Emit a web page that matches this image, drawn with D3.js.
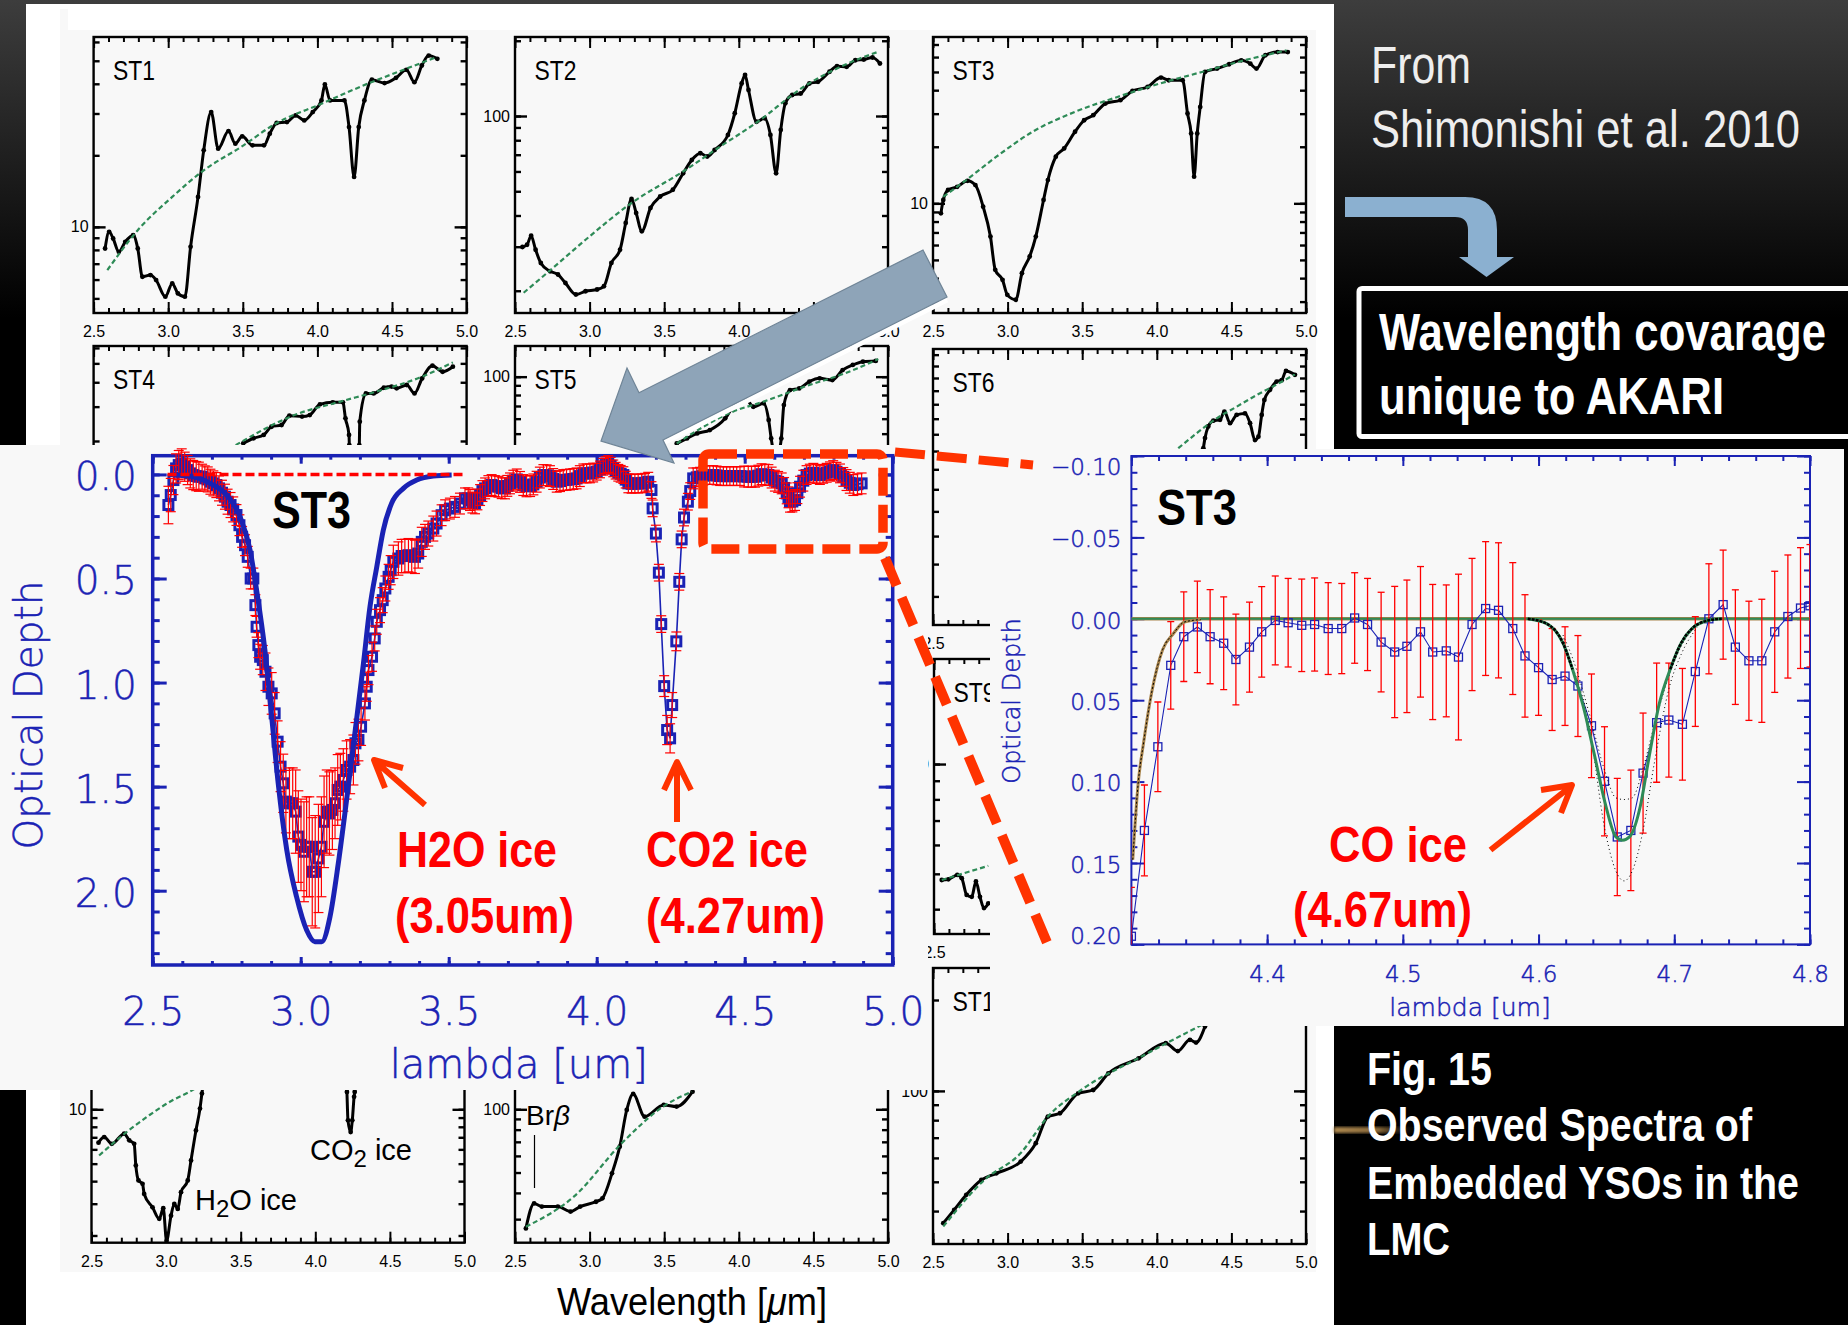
<!DOCTYPE html>
<html>
<head>
<meta charset="utf-8">
<script src="https://cdnjs.cloudflare.com/ajax/libs/d3/7.8.5/d3.min.js"></script>
<style>
  html, body { margin: 0; padding: 0; background: #000; }
  svg { display: block; }
  text { font-family: "Liberation Sans", sans-serif; }
  .thin text, text.thin { font-family: "DejaVu Sans", sans-serif; font-weight: 200; stroke: #1a22b4; stroke-width: .5; }
</style>
</head>
<body>
<svg id="chart" width="1848" height="1325"></svg>
<script>
// small spectra, lambda in um and log10 of the flux
var st1Lam = [2.577,2.604,2.631,2.669,2.712,2.765,2.796,2.827,2.881,2.919,2.981,3.027,3.065,3.112,3.15,3.2,3.238,3.288,3.335,3.404,3.45,3.496,3.565,3.642,3.681,3.727,3.796,3.854,3.912,3.969,4.027,4.05,4.085,4.181,4.212,4.246,4.277,4.315,4.365,4.45,4.527,4.596,4.65,4.7,4.746,4.804],
    st1Log = [.909,.979,.951,.895,.937,.965,.909,.79,.797,.776,.706,.762,.72,.706,.916,1.126,1.322,1.483,1.329,1.403,1.35,1.381,1.343,1.343,1.392,1.437,1.441,1.469,1.448,1.483,1.532,1.599,1.532,1.532,1.42,1.21,1.42,1.532,1.619,1.605,1.627,1.661,1.609,1.679,1.721,1.707],
    st1FitLam = [2.592,2.796,3.027,3.238,3.488,3.719,4.027,4.335,4.565,4.796],
    st1FitLog = [.818,.986,1.126,1.238,1.336,1.434,1.518,1.602,1.658,1.714];

var st2Lam = [2.55,2.581,2.608,2.638,2.673,2.735,2.788,2.838,2.908,2.973,3.05,3.096,3.146,3.204,3.242,3.281,3.312,3.35,3.408,3.473,3.558,3.627,3.685,3.742,3.788,3.838,3.927,3.973,4.019,4.042,4.065,4.119,4.173,4.212,4.25,4.281,4.312,4.358,4.415,4.473,4.531,4.608,4.658,4.723,4.781,4.838,4.896,4.946],
    st2Log = [1.476,1.485,1.521,1.465,1.412,1.379,1.366,1.332,1.286,1.299,1.306,1.319,1.412,1.465,1.572,1.668,1.612,1.539,1.632,1.678,1.705,1.771,1.824,1.851,1.838,1.864,1.924,2.011,2.13,2.164,2.104,1.977,1.991,1.924,1.771,1.944,2.051,2.084,2.09,2.13,2.137,2.177,2.199,2.197,2.223,2.226,2.234,2.21],
    st2FitLam = [2.558,2.742,2.973,3.281,3.627,3.858,4.127,4.435,4.704,4.935],
    st2FitLog = [1.293,1.386,1.505,1.652,1.778,1.871,1.977,2.117,2.203,2.257];

var st3Lam = [2.553,2.569,2.601,2.662,2.731,2.784,2.836,2.885,2.917,2.966,2.998,3.055,3.096,3.148,3.189,3.241,3.27,3.323,3.379,3.452,3.513,3.574,3.655,3.756,3.837,3.938,4.028,4.08,4.173,4.206,4.23,4.25,4.271,4.291,4.323,4.404,4.485,4.566,4.627,4.668,4.728,4.81,4.878],
    st3Log = [.947,1.018,1.071,1.088,1.12,1.097,.982,.823,.646,.593,.513,.487,.628,.717,.823,1.018,1.124,1.248,1.292,1.381,1.442,1.469,1.531,1.549,1.598,1.619,1.669,1.655,1.655,1.478,1.372,1.142,1.372,1.513,1.699,1.717,1.74,1.761,1.743,1.717,1.788,1.805,1.805],
    st3FitLam = [2.569,2.723,2.925,3.168,3.452,3.736,4.019,4.303,4.587,4.87],
    st3FitLog = [1.035,1.124,1.248,1.381,1.487,1.566,1.637,1.699,1.761,1.814];

var st4Lam = [3.503,3.572,3.64,3.692,3.76,3.812,3.897,3.949,4.017,4.103,4.171,4.188,4.212,4.214,4.23,4.25,4.271,4.281,4.284,4.325,4.377,4.445,4.497,4.531,4.599,4.651,4.702,4.771,4.839,4.908],
    st4Log = [1.289,1.315,1.332,1.374,1.383,1.431,1.426,1.434,1.489,1.499,1.499,1.417,1.332,1.28,1.11,.939,1.11,1.28,1.4,1.545,1.545,1.574,1.58,1.571,1.588,1.545,1.622,1.687,1.656,1.682],
    st4FitLam = [3.452,3.846,4.154,4.394,4.702,4.908],
    st4FitLog = [1.28,1.434,1.503,1.554,1.631,1.704];

var st5Lam = [3.584,3.653,3.721,3.806,3.909,3.977,4.046,4.097,4.166,4.2,4.217,4.234,4.251,4.268,4.285,4.302,4.343,4.405,4.473,4.542,4.627,4.696,4.764,4.832,4.918],
    st5Log = [1.647,1.674,1.7,1.718,1.78,1.859,1.885,1.841,1.859,1.771,1.674,1.586,1.462,1.586,1.674,1.85,1.929,1.938,1.974,1.991,1.982,2.035,2.062,2.079,2.083],
    st5FitLam = [3.584,3.96,4.166,4.439,4.713,4.935],
    st5FitLog = [1.647,1.815,1.868,1.947,2.018,2.093];

var st6Lam = [4.312,4.323,4.345,4.379,4.424,4.453,4.491,4.535,4.591,4.625,4.658,4.681,4.703,4.721,4.759,4.803,4.837,4.866,4.926],
    st6Log = [1.386,1.407,1.431,1.443,1.445,1.462,1.438,1.455,1.458,1.438,1.403,1.41,1.455,1.486,1.507,1.524,1.527,1.546,1.538],
    st6FitLam = [4.144,4.267,4.401,4.535,4.669,4.803,4.926],
    st6FitLog = [1.386,1.417,1.448,1.472,1.496,1.518,1.539];

var st7Lam = [2.547,2.585,2.636,2.719,2.753,2.786,2.797,2.815,2.842,2.853,2.909,2.954,2.981,3.003,3.033,3.055,3.078,3.1,3.145,3.167,3.2,3.227,3.24,3.3,4.2,4.212,4.219,4.237,4.248,4.26,4.264,4.3,4.9],
    st7Log = [.815,.846,.809,.865,.828,.809,.689,.606,.587,.531,.457,.393,.452,.272,.411,.476,.448,.541,.606,.717,.883,1.004,1.087,1.4,1.4,1.096,.939,.874,.939,1.069,1.096,1.4,1.5],
    st7FitLam = [2.551,2.708,2.887,3.043,3.155,3.5],
    st7FitLog = [.744,.856,.967,1.05,1.096,1.3];

var st8Lam = [2.573,2.628,2.68,2.787,2.872,2.937,3.043,3.086,3.15,3.202,3.249,3.292,3.369,3.497,3.583,3.69],
    st8Log = [1.433,1.552,1.537,1.537,1.513,1.537,1.56,1.576,1.695,1.822,1.997,2.073,1.965,2.021,2.013,2.084],
    st8FitLam = [2.573,2.894,3.215,3.493,3.686],
    st8FitLog = [1.441,1.584,1.838,2.013,2.084];

var st9Lam = [2.552,2.596,2.656,2.686,2.719,2.753,2.781,2.808,2.835,2.864],
    st9Log = [1.682,1.684,1.696,1.687,1.641,1.636,1.678,1.636,1.605,1.618],
    st9FitLam = [2.552,2.864],
    st9FitLog = [1.682,1.721];

var st12Lam = [2.569,2.642,2.723,2.824,2.925,3.088,3.189,3.27,3.351,3.473,3.574,3.675,3.878,4.06,4.141,4.222,4.263,4.323],
    st12Log = [1.562,1.606,1.656,1.705,1.727,1.766,1.827,1.915,1.926,1.992,2.003,2.058,2.108,2.158,2.132,2.169,2.16,2.213],
    st12FitLam = [2.569,2.844,3.088,3.27,3.493,3.898,4.303],
    st12FitLog = [1.551,1.705,1.794,1.915,2.003,2.114,2.219];

// ST3 optical depth, big panel
var mainLam = [
  2.553,2.561,2.57,2.579,2.588,2.598,2.608,2.618,2.627,2.637,
  2.647,2.656,2.667,2.676,2.686,2.695,2.705,2.715,2.724,2.734,
  2.744,2.753,2.763,2.772,2.783,2.793,2.802,2.812,2.821,2.831,
  2.84,2.847,2.851,2.857,2.863,2.872,2.881,2.891,2.902,2.912,
  2.922,2.932,2.941,2.95,2.962,2.973,2.983,2.992,3.001,3.011,
  3.02,3.029,3.039,3.049,3.06,3.07,3.079,3.088,3.097,3.107,
  3.116,3.125,3.134,3.144,3.155,3.167,3.178,3.185,3.195,3.204,
  3.217,3.223,3.229,3.241,3.25,3.257,3.268,3.277,3.286,3.297,
  3.304,3.313,3.33,3.341,3.352,3.364,3.375,3.386,3.397,3.409,
  3.42,3.431,3.448,3.459,3.476,3.488,3.504,3.521,3.538,3.555,3.566,
  3.572,3.58,3.589,3.597,3.606,3.614,3.623,3.634,3.645,3.656,
  3.668,3.679,3.69,3.698,3.707,3.718,3.73,3.741,3.752,3.763,
  3.775,3.786,3.797,3.808,3.82,3.831,3.842,3.853,3.865,3.876,
  3.887,3.898,3.91,3.921,3.932,3.943,3.955,3.966,3.977,3.988,
  4.0,4.011,4.022,4.03,4.039,4.047,4.056,4.064,4.073,4.081,
  4.09,4.098,4.107,4.118,4.129,4.14,4.152,4.163,4.174,
  4.185,4.189,4.2,4.21,4.218,4.228,4.238,4.248,4.255,4.269,4.279,4.287,4.295,4.308,4.316,
  4.326,4.338,4.349,4.36,4.371,4.382,4.394,4.405,4.417,4.428,
  4.439,4.45,4.462,4.473,4.484,4.498,4.512,4.523,4.535,4.546,
  4.557,4.568,4.58,4.591,4.602,4.613,4.625,4.633,4.642,4.648,
  4.653,4.661,4.67,4.678,4.687,4.698,4.709,4.72,4.732,4.743,
  4.754,4.765,4.777,4.788,4.799,4.81,4.822,4.833,4.844,4.855,
  4.867,4.881,4.895];
var mainTau = [
  .147,.099,.027,-.029,-.045,-.053,-.037,-.021,-.005,.003,
  .008,.011,.011,.019,.024,.035,.043,.051,.067,.088,
  .107,.131,.147,.168,.195,.244,.3,.34,.396,.5,
  .5,.628,.732,.82,.876,.892,.948,1.02,1.052,1.148,
  1.284,1.404,1.484,1.572,1.58,1.58,1.62,1.74,1.78,1.813,
  1.789,1.789,1.909,1.909,1.845,1.789,1.669,1.62,1.629,1.612,
  1.58,1.516,1.5,1.468,1.42,1.404,1.372,1.292,1.276,1.212,
  1.1,1.02,.94,.876,.788,.708,.652,.604,.548,.492,
  .46,.42,.404,.392,.392,.388,.392,.396,.38,.324,
  .3,.284,.26,.236,.196,.172,.164,.156,.14,.115,.115,
  .123,.135,.139,.12,.099,.08,.067,.056,.051,.056,
  .059,.066,.067,.055,.043,.03,.024,.036,.051,.057,
  .056,.048,.035,.015,.003,.004,.008,.022,.035,.032,
  .027,.026,.024,.022,.019,.008,-.005,-.005,-.005,-.009,
  -.013,-.024,-.037,-.045,-.05,-.042,-.029,-.018,-.008,-.003,
  .003,.025,.043,.045,.043,.044,.043,.04,.035,
  .075,.163,.284,.472,.719,1.017,1.228,1.268,1.108,.802,.516,.312,.207,.131,.08,
  .019,.014,.011,.006,.003,.003,.003,.005,.008,.008,
  .008,.008,.008,.008,.008,.01,.011,.011,.011,.006,
  -.001,.001,.003,.015,.03,.036,.043,.065,.091,.11,
  .131,.13,.123,.09,.059,.03,.003,-.004,-.008,-.002,
  .003,-.003,-.008,-.015,-.021,-.013,-.005,.012,.027,.04,
  .051,.047,.043];
var mainErr = [
  .09,.08,.07,.07,.07,.07,.07,.07,.07,.07,
  .07,.07,.06,.06,.06,.06,.06,.06,.06,.06,
  .06,.06,.06,.06,.05,.05,.05,.05,.05,.05,
  .05,.05,.05,.06,.06,.07,.09,.09,.1,.1,
  .1,.12,.14,.15,.17,.17,.2,.22,.22,.24,
  .24,.24,.26,.27,.26,.24,.22,.2,.2,.19,
  .17,.17,.16,.15,.14,.13,.12,.1,.1,.09,
  .08,.07,.07,.07,.06,.06,.06,.06,.06,.06,
  .07,.08,.08,.08,.08,.08,.08,.08,.07,.07,
  .06,.06,.06,.06,.05,.05,.05,.05,.05,.05,.05,
  .05,.05,.05,.05,.05,.05,.05,.05,.05,.05,
  .05,.05,.05,.05,.05,.05,.05,.05,.05,.05,
  .05,.05,.05,.05,.05,.05,.05,.05,.05,.05,
  .05,.05,.05,.05,.05,.05,.045,.045,.045,.045,
  .04,.04,.04,.04,.04,.04,.04,.04,.04,.04,
  .04,.04,.045,.045,.045,.045,.045,.045,.045,
  .04,.04,.04,.04,.04,.05,.07,.07,.06,.045,.04,.04,.04,.04,.04,
  .05,.045,.045,.045,.045,.045,.045,.045,.045,.045,
  .045,.045,.045,.045,.045,.05,.05,.05,.05,.05,
  .05,.05,.05,.05,.05,.05,.05,.05,.05,.05,
  .05,.05,.05,.05,.05,.05,.045,.045,.045,.045,
  .045,.045,.045,.045,.045,.045,.045,.045,.05,.05,
  .05,.05,.05];

var h2oFitLam = [2.57,2.637,2.694,2.75,2.795,2.829,2.851,2.879,2.902,2.924,2.953,2.986,3.02,3.048,3.071,3.099,3.127,3.155,3.183,3.212,3.234,3.257,3.279,3.307,3.347,3.392,3.448,3.51],
    h2oFitTau = [.003,.011,.043,.099,.203,.364,.556,.844,1.164,1.484,1.805,2.029,2.189,2.245,2.245,2.125,1.869,1.564,1.244,.908,.636,.444,.268,.139,.067,.027,.008,.003],
    zeroLam = [2.55,3.55],
    zeroTau = [0,0];

// ST3 zoom around the CO band
var coLam = [4.3,4.3096,4.3195,4.329,4.3386,4.3486,4.358,4.368,4.377,4.387,4.396,4.406,4.4155,4.4255,4.435,4.445,4.455,4.4645,4.474,4.484,4.494,4.503,4.513,4.522,4.532,4.541,4.551,4.561,4.5705,4.581,4.59,4.6,4.61,4.6195,4.629,4.639,4.6486,4.658,4.668,4.677,4.687,4.696,4.706,4.7155,4.7255,4.736,4.745,4.755,4.7645,4.774,4.7837,4.793,4.8],
    coTau = [.195,.13,.0786,.0286,.011,.005,.011,.015,.025,.0174,.008,.001,.0024,.004,.0035,.006,.006,-.0005,.0035,.0143,.0204,.0169,.008,.0204,.0197,.0235,.0035,-.0063,-.0052,.006,.0228,.03,.0373,.0352,.0413,.0657,.0998,.134,.13,.0948,.0638,.0622,.0648,.0324,0,-.0087,.0174,.0258,.0258,.008,-.0014,-.0066,-.008],
    coErr = [.03,.0279,.0275,.0269,.0275,.0281,.0289,.0285,.0279,.0277,.0278,.0273,.0272,.0284,.0286,.0282,.0277,.0278,.0283,.0306,.0403,.0407,.0401,.0415,.0405,.0509,.0406,.0411,.0415,.0405,.0376,.0293,.0313,.0303,.031,.0318,.0335,.036,.037,.0369,.0366,.035,.0343,.0337,.0338,.0335,.0352,.0366,.0378,.0372,.0378,.0371,.0376];

var wingLam = [4.301,4.305,4.309,4.315,4.323,4.331,4.339,4.351],
    wingTau = [.148,.101,.076,.045,.019,.009,.002,.0005],
    coFitLam = [4.592,4.606,4.618,4.625,4.633,4.641,4.649,4.657,4.662,4.667,4.675,4.681,4.689,4.697,4.705,4.713,4.725,4.735],
    coFitTau = [0,.003,.015,.031,.054,.083,.113,.134,.136,.134,.115,.087,.052,.031,.015,.006,.001,0],
    coLowLam = [4.618,4.625,4.637,4.649,4.657,4.663,4.669,4.677,4.685,4.697,4.705,4.717],
    coLowTau = [.012,.029,.064,.13,.155,.161,.155,.13,.09,.04,.022,.005],
    coHighTau = [.01,.024,.057,.094,.11,.111,.11,.092,.066,.033,.017,.004];

var svg = d3.select("#chart");
var defs = svg.append("defs");

var bgGrad = defs.append("linearGradient").attr("id", "bg").attr("x1", 0).attr("x2", 0).attr("y1", 0).attr("y2", 1);
bgGrad.append("stop").attr("offset", 0).attr("stop-color", "#3d3d3d");
bgGrad.append("stop").attr("offset", .24).attr("stop-color", "#000");
bgGrad.append("stop").attr("offset", 1).attr("stop-color", "#000");

var glow = defs.append("linearGradient").attr("id", "glow");
glow.append("stop").attr("offset", 0).attr("stop-color", "#b08a50");
glow.append("stop").attr("offset", .5).attr("stop-color", "#8a6a3a");
glow.append("stop").attr("offset", 1).attr("stop-color", "#000").attr("stop-opacity", 0);
defs.append("filter").attr("id", "soft").append("feGaussianBlur").attr("stdDeviation", 1.5);

function box(x, y, w, h, fill) {
  return svg.append("rect").attr("x", x).attr("y", y).attr("width", w).attr("height", h).attr("fill", fill);
}

box(0, 0, 1848, 1325, "url(#bg)");
box(26, 4, 1308, 1321, "#fff");
box(60, 9, 1256, 1263, "#f8f8f8");
box(68, 9, 1248, 21, "#fff");
box(1334, 1127, 90, 6, "url(#glow)").attr("filter", "url(#soft)");

// ----- small log panels -----
var panels = [
  {name: "ST1", lam: st1Lam, log: st1Log, fitLam: st1FitLam, fitLog: st1FitLog, left: 93.6, top: 37, bottom: 313, range: [.6375, 1.799], labels: true},
  {name: "ST2", lam: st2Lam, log: st2Log, fitLam: st2FitLam, fitLog: st2FitLog, left: 515, top: 37, bottom: 313, range: [1.212, 2.316], labels: true},
  {name: "ST3", lam: st3Lam, log: st3Log, fitLam: st3FitLam, fitLog: st3FitLog, left: 933, top: 37, bottom: 313, range: [.4165, 1.885], labels: true},
  {name: "ST4", lam: st4Lam, log: st4Log, fitLam: st4FitLam, fitLog: st4FitLog, left: 93.6, top: 346, bottom: 622, range: [.373, 1.788], labels: false},
  {name: "ST5", lam: st5Lam, log: st5Log, fitLam: st5FitLam, fitLog: st5FitLog, left: 515, top: 346, bottom: 622, range: [.704, 2.162], labels: false},
  {name: "ST6", lam: st6Lam, log: st6Log, fitLam: st6FitLam, fitLog: st6FitLog, left: 933, top: 349, bottom: 625, range: [1.02, 1.5915], labels: true},
  {name: "ST7", lam: st7Lam, log: st7Log, fitLam: st7FitLam, fitLog: st7FitLog, left: 91.5, top: 966, bottom: 1242.7, range: [.261, 1.794], labels: true},
  {name: "ST8", lam: st8Lam, log: st8Log, fitLam: st8FitLam, fitLog: st8FitLog, left: 515, top: 966, bottom: 1242.7, range: [1.365, 2.682], labels: true},
  {name: "ST9", lam: st9Lam, log: st9Log, fitLam: st9FitLam, fitLog: st9FitLog, left: 934, top: 659, bottom: 934, range: [1.534, 2.288], labels: true},
  {name: "ST12", lam: st12Lam, log: st12Log, fitLam: st12FitLam, fitLog: st12FitLog, left: 933, top: 968, bottom: 1244, range: [1.493, 2.407], labels: true}
];

panels.forEach(function(p) {
  var w = 373, h = p.bottom - p.top;
  var g = svg.append("g").attr("transform", "translate(" + p.left + "," + p.top + ")");
  var x = d3.scaleLinear().domain([2.5, 5]).range([0, w]);
  var y = d3.scaleLog().domain([Math.pow(10, p.range[0]), Math.pow(10, p.range[1])]).range([h, 0]);
  var major = function(d) { return Math.abs(Math.log10(d) - Math.round(Math.log10(d))) < 1e-6; };

  [[d3.axisBottom, h], [d3.axisTop, 0]].forEach(function(a) {
    g.append("g").attr("transform", "translate(0," + a[1] + ")")
      .call(a[0](x).tickValues(x.ticks(25)).tickSize(-5).tickFormat(""))
      .call(cleanAxis, 2);
    g.append("g").attr("transform", "translate(0," + a[1] + ")")
      .call(a[0](x).tickValues(x.ticks(5)).tickSize(-11).tickFormat(""))
      .call(cleanAxis, 2);
  });
  [[d3.axisLeft, 0], [d3.axisRight, w]].forEach(function(a) {
    g.append("g").attr("transform", "translate(" + a[1] + ",0)")
      .call(a[0](y).tickValues(y.ticks()).tickSize(-6).tickFormat(""))
      .call(cleanAxis, 2.4);
    g.append("g").attr("transform", "translate(" + a[1] + ",0)")
      .call(a[0](y).tickValues(y.ticks().filter(major)).tickSize(-12).tickFormat(""))
      .call(cleanAxis, 2.4);
  });
  g.append("rect").attr("width", w).attr("height", h).attr("fill", "none").attr("stroke", "#000").attr("stroke-width", 2.4);

  // row 2 of the left columns sits wholly behind the big panel
  if (p.labels) {
    g.append("g").attr("transform", "translate(0," + h + ")")
      .call(d3.axisBottom(x).tickValues(x.ticks(5)).tickSize(0).tickPadding(13).tickFormat(d3.format(".1f")))
      .call(axisText, 16);
  }
  g.append("g")
    .call(d3.axisLeft(y).tickValues(y.ticks().filter(major)).tickSize(0).tickPadding(5).tickFormat(d3.format("d")))
    .call(axisText, 16);

  var clipId = "clip-" + p.name;
  defs.append("clipPath").attr("id", clipId).append("rect").attr("width", w).attr("height", h);
  var plot = g.append("g").attr("clip-path", "url(#" + clipId + ")");

  var line = d3.line()
    .x(function(d) { return x(d[0]); })
    .y(function(d) { return y(Math.pow(10, d[1])); })
    .curve(d3.curveMonotoneX);

  var pts = d3.zip(p.lam, p.log);
  plot.append("path").datum(pts).attr("d", line).attr("fill", "none").attr("stroke", "#000").attr("stroke-width", 3).attr("stroke-linejoin", "round");
  plot.selectAll("circle").data(pts).enter().append("circle")
    .attr("cx", function(d) { return x(d[0]); })
    .attr("cy", function(d) { return y(Math.pow(10, d[1])); })
    .attr("r", 2.4).attr("fill", "#000");
  plot.append("path").datum(d3.zip(p.fitLam, p.fitLog)).attr("d", line)
    .attr("fill", "none").attr("stroke", "#2e8b57").attr("stroke-width", 2.2).attr("stroke-dasharray", "5,3");

  g.append("text").attr("x", 19.5).attr("y", 43).attr("font-size", 27).attr("fill", "#000")
    .attr("textLength", p.name == "ST12" ? 55 : 42).attr("lengthAdjust", "spacingAndGlyphs").text(p.name);
});

function cleanAxis(sel, width) {
  sel.select(".domain").remove();
  sel.selectAll("line").attr("stroke", "#000").attr("stroke-width", width);
  sel.selectAll("text").remove();
}

function axisText(sel, size) {
  sel.select(".domain").remove();
  sel.selectAll("line").remove();
  sel.attr("font-family", null).attr("font-size", size).style("color", "#000");
}

// labels that only the small panels carry
function note(x, y, size, parts) {
  var t = svg.append("text").attr("x", x).attr("y", y).attr("font-size", size).attr("fill", "#000");
  parts.forEach(function(s) {
    t.append("tspan").attr("dy", s[1]).attr("font-size", s[2] || size).attr("font-style", s[3] || null).text(s[0]);
  });
  return t;
}
note(195, 1210, 29, [["H", 0], ["2", 7, 24], ["O ice", -7]]);
note(310, 1160, 29, [["CO", 0], ["2", 7, 24], [" ice", -7]]);
note(526, 1125, 28, [["Br", 0], ["\u03b2", 0, 28, "italic"]]);
svg.append("line").attr("x1", 534.5).attr("x2", 534.5).attr("y1", 1135).attr("y2", 1188).attr("stroke", "#000").attr("stroke-width", 1.2);
note(557, 1315, 38, [["Wavelength [", 0], ["\u03bc", 0, 38, "italic"], ["m]", 0]])
  .attr("textLength", 270).attr("lengthAdjust", "spacingAndGlyphs");

// overlays taken from the slide
box(0, 445, 928, 645, "#f8f8f8");
box(990, 449, 854, 577, "#f8f8f8");

var blue = "#1a22b4", red = "#ff0000";

// ----- big ST3 panel -----
var mw = 740, mh = 509.3;
var mg = svg.append("g").attr("transform", "translate(152.7,455.7)");
var mx = d3.scaleLinear().domain([2.5, 5]).range([0, mw]);
var my = d3.scaleLinear().domain([-.09, 2.357]).range([0, mh]);

drawTicks(mg, mx, my, mw, mh, 25, 5, 25, 5, 4, 8, 7, 14, 3);
mg.append("rect").attr("width", mw).attr("height", mh).attr("fill", "none").attr("stroke", blue).attr("stroke-width", 3.5);

mg.append("g").attr("class", "thin").attr("transform", "translate(0," + mh + ")")
  .call(d3.axisBottom(mx).tickValues(mx.ticks(5)).tickSize(0).tickPadding(32).tickFormat(d3.format(".1f")))
  .call(blueText, 39);
mg.append("g").attr("class", "thin")
  .call(d3.axisLeft(my).tickValues(my.ticks(5)).tickSize(0).tickPadding(16).tickFormat(d3.format(".1f")))
  .call(blueText, 39)
  .selectAll("text").attr("y", 3);

mg.append("text").attr("class", "thin").attr("x", mw / 2 - 4).attr("y", 1078 - 455.7).attr("text-anchor", "middle")
  .attr("font-size", 40).attr("fill", blue).text("lambda [um]");
mg.append("text").attr("class", "thin").attr("transform", "translate(-110.7,259.3) rotate(-90)").attr("text-anchor", "middle")
  .attr("font-size", 39).attr("fill", blue).text("Optical Depth");

var mainPts = d3.zip(mainLam, mainTau, mainErr);
drawSpectrum(mg, mx, my, mainPts, 9, 3, 1.6, 5, 1.2);

var mline = d3.line().x(function(d) { return mx(d[0]); }).y(function(d) { return my(d[1]); }).curve(d3.curveMonotoneX);
mg.append("path").datum(d3.zip(h2oFitLam, h2oFitTau)).attr("d", mline).attr("fill", "none").attr("stroke", blue).attr("stroke-width", 5);
mg.append("path").datum(d3.zip(zeroLam, zeroTau)).attr("d", mline).attr("fill", "none").attr("stroke", red).attr("stroke-width", 3.5).attr("stroke-dasharray", "9,4");

mg.append("text").attr("x", 272 - 152.7).attr("y", 528 - 455.7).attr("font-size", 51).attr("font-weight", "bold").attr("fill", "#000")
  .attr("textLength", 79).attr("lengthAdjust", "spacingAndGlyphs").text("ST3");

// ----- CO zoom -----
var iw = 678.6, ih = 488.4;
var ig = svg.append("g").attr("transform", "translate(1131.4,456)");
var ix = d3.scaleLinear().domain([4.3, 4.8]).range([0, iw]);
var iy = d3.scaleLinear().domain([-.1, .2]).range([0, ih]);

defs.append("clipPath").attr("id", "clip-co").append("rect").attr("width", iw).attr("height", ih);
drawTicks(ig, ix, iy, iw, ih, 25, 5, 30, 6, 5, 10, 6, 13, 2);
ig.append("rect").attr("width", iw).attr("height", ih).attr("fill", "none").attr("stroke", blue).attr("stroke-width", 2);

ig.append("g").attr("class", "thin").attr("transform", "translate(0," + ih + ")")
  .call(d3.axisBottom(ix).tickValues(ix.ticks(5).slice(1)).tickSize(0).tickPadding(21).tickFormat(d3.format(".1f")))
  .call(blueText, 23);
ig.append("g").attr("class", "thin")
  .call(d3.axisLeft(iy).tickValues(iy.ticks(6)).tickSize(0).tickPadding(10).tickFormat(d3.format(".2f")))
  .call(blueText, 23)
  .selectAll("text").attr("y", function(d) { return d < -.09 ? 11 : d > .19 ? -8 : 2; });

ig.append("text").attr("class", "thin").attr("x", 338.6).attr("y", 1016 - 456).attr("text-anchor", "middle")
  .attr("font-size", 25).attr("fill", blue).text("lambda [um]");
ig.append("text").attr("class", "thin").attr("transform", "translate(-111,245) rotate(-90)").attr("text-anchor", "middle")
  .attr("font-size", 24).attr("fill", blue).text("Optical Depth");

var iplot = ig.append("g").attr("clip-path", "url(#clip-co)");
var iline = d3.line().x(function(d) { return ix(d[0]); }).y(function(d) { return iy(d[1]); });
var ifit = iline.curve(d3.curveMonotoneX);

iplot.append("path").datum(d3.zip(ix.domain(), [0, 0])).attr("d", ifit).attr("fill", "none").attr("stroke", "#a8844c").attr("stroke-width", 3.4);
iplot.append("path").datum(d3.zip(ix.domain(), [0, 0])).attr("d", ifit).attr("fill", "none").attr("stroke", "#2e8b57").attr("stroke-width", 2);

drawSpectrum(iplot, ix, iy, d3.zip(coLam, coTau, coErr), 8, 1.3, 1.1, 3.5, 1.3);

iplot.append("path").datum(d3.zip(wingLam, wingTau)).attr("d", ifit).attr("fill", "none").attr("stroke", "#a8844c").attr("stroke-width", 3);
iplot.append("path").datum(d3.zip(wingLam, wingTau)).attr("d", ifit).attr("fill", "none").attr("stroke", "#000").attr("stroke-width", 1).attr("stroke-dasharray", "2,2");

[coLowTau, coHighTau].forEach(function(t) {
  iplot.append("path").datum(d3.zip(coLowLam, t)).attr("d", ifit).attr("fill", "none").attr("stroke", "#000").attr("stroke-width", 1).attr("stroke-dasharray", "1,3");
});
var coPts = d3.zip(coFitLam, coFitTau);
iplot.append("path").datum(coPts).attr("d", ifit).attr("fill", "none").attr("stroke", "#2e8b57").attr("stroke-width", 3);
[coPts.slice(0, 4), coPts.slice(-5)].forEach(function(s) {
  iplot.append("path").datum(s).attr("d", ifit).attr("fill", "none").attr("stroke", "#000").attr("stroke-width", 2.5).attr("stroke-dasharray", "3,1");
});

ig.append("text").attr("x", 25.6).attr("y", 69).attr("font-size", 50).attr("font-weight", "bold").attr("fill", "#000")
  .attr("textLength", 80).attr("lengthAdjust", "spacingAndGlyphs").text("ST3");

function drawTicks(g, x, y, w, h, xMinor, xMajor, yMinor, yMajor, xs, xb, ys, yb, width) {
  [[d3.axisBottom, h], [d3.axisTop, 0]].forEach(function(a) {
    [[xMinor, xs], [xMajor, xb]].forEach(function(t) {
      g.append("g").attr("transform", "translate(0," + a[1] + ")")
        .call(a[0](x).tickValues(x.ticks(t[0])).tickSize(-t[1]).tickFormat(""))
        .call(blueTicks, width);
    });
  });
  [[d3.axisLeft, 0], [d3.axisRight, w]].forEach(function(a) {
    [[yMinor, ys], [yMajor, yb]].forEach(function(t) {
      g.append("g").attr("transform", "translate(" + a[1] + ",0)")
        .call(a[0](y).tickValues(y.ticks(t[0])).tickSize(-t[1]).tickFormat(""))
        .call(blueTicks, width);
    });
  });
}

function blueTicks(sel, width) {
  sel.select(".domain").remove();
  sel.selectAll("line").attr("stroke", blue).attr("stroke-width", width);
  sel.selectAll("text").remove();
}

function blueText(sel, size) {
  sel.select(".domain").remove();
  sel.selectAll("line").remove();
  sel.attr("font-family", null).attr("font-size", size).style("color", blue);
}

function drawSpectrum(g, x, y, pts, size, squareWidth, lineWidth, cap, errWidth) {
  var line = d3.line().x(function(d) { return x(d[0]); }).y(function(d) { return y(d[1]); });
  g.append("path").datum(pts).attr("d", line).attr("fill", "none").attr("stroke", blue).attr("stroke-width", lineWidth);
  g.selectAll("rect.sq").data(pts).enter().append("rect").attr("class", "sq")
    .attr("x", function(d) { return x(d[0]) - size / 2; })
    .attr("y", function(d) { return y(d[1]) - size / 2; })
    .attr("width", size).attr("height", size)
    .attr("fill", "none").attr("stroke", blue).attr("stroke-width", squareWidth);
  var e = g.selectAll("g.err").data(pts).enter().append("g").attr("class", "err")
    .attr("stroke", red).attr("stroke-width", errWidth);
  e.append("line")
    .attr("x1", function(d) { return x(d[0]); }).attr("x2", function(d) { return x(d[0]); })
    .attr("y1", function(d) { return y(d[1] - d[2]); }).attr("y2", function(d) { return y(d[1] + d[2]); });
  [-1, 1].forEach(function(s) {
    e.append("line")
      .attr("x1", function(d) { return x(d[0]) - cap; }).attr("x2", function(d) { return x(d[0]) + cap; })
      .attr("y1", function(d) { return y(d[1] + s * d[2]); }).attr("y2", function(d) { return y(d[1] + s * d[2]); });
  });
}

// ----- slide annotations -----
function slideText(x, y, size, weight, fill, str, len) {
  svg.append("text").attr("x", x).attr("y", y).attr("font-size", size).attr("font-weight", weight).attr("fill", fill)
    .attr("textLength", len).attr("lengthAdjust", "spacingAndGlyphs").text(str);
}
slideText(397, 866.7, 50, "bold", red, "H2O ice", 160);
slideText(395, 933, 50, "bold", red, "(3.05um)", 179);
slideText(646, 866.7, 50, "bold", red, "CO2 ice", 162);
slideText(646, 933, 50, "bold", red, "(4.27um)", 179);
slideText(1329, 861.7, 50, "bold", red, "CO ice", 138);
slideText(1293, 926.8, 50, "bold", red, "(4.67um)", 179);

slideText(1371, 83, 51, "normal", "#eee", "From", 100);
slideText(1371, 147, 51, "normal", "#eee", "Shimonishi et al. 2010", 429);
slideText(1379, 350, 51, "bold", "#fff", "Wavelength covarage", 447);
slideText(1379, 414, 51, "bold", "#fff", "unique to AKARI", 345);
slideText(1367, 1085, 46, "bold", "#fff", "Fig. 15", 125);
slideText(1367, 1140.7, 46, "bold", "#fff", "Observed Spectra of", 385);
slideText(1367, 1199, 46, "bold", "#fff", "Embedded YSOs in the", 432);
slideText(1367, 1255, 46, "bold", "#fff", "LMC", 83);

svg.append("rect").attr("x", 1359).attr("y", 288.5).attr("width", 520).attr("height", 148).attr("rx", 3)
  .attr("fill", "none").attr("stroke", "#fff").attr("stroke-width", 5);

svg.append("path").attr("d", "M1345,197H1465Q1497,197 1497,230V257H1514L1486.5,277L1459,257H1468V230Q1468,217 1455,217H1345Z")
  .attr("fill", "#8bb0d0");

svg.append("line").attr("x1", 663).attr("y1", 443).attr("x2", 947).attr("y2", 300).attr("stroke", "#fff").attr("stroke-width", 5);
svg.append("path").attr("d", "M923,250L639,392.7L627,368L601,441L674,463L663,440L947,297Z")
  .attr("fill", "#8ea4b8").attr("stroke", "#6f8496").attr("stroke-width", 1.2);

var orange = "#ff3300";
svg.append("rect").attr("x", 703).attr("y", 454).attr("width", 180).attr("height", 95).attr("rx", 6)
  .attr("fill", "none").attr("stroke", orange).attr("stroke-width", 9.5).attr("stroke-dasharray", "28,9");
svg.append("line").attr("x1", 895).attr("y1", 452).attr("x2", 1033).attr("y2", 465)
  .attr("stroke", orange).attr("stroke-width", 9).attr("stroke-dasharray", "30,12");
svg.append("line").attr("x1", 885).attr("y1", 558).attr("x2", 1048).attr("y2", 945)
  .attr("stroke", orange).attr("stroke-width", 10).attr("stroke-dasharray", "30,13");

function redArrow(d) {
  svg.append("path").attr("d", d).attr("fill", "none").attr("stroke", orange).attr("stroke-width", 6).attr("stroke-linejoin", "round");
}
redArrow("M425,805L376,762M403,768L374,760L385,788");
redArrow("M677,822V763M664,790L677,762L691,790");
redArrow("M1490.5,850L1570,787M1541,790L1572,785L1561,813");
</script>
</body>
</html>
